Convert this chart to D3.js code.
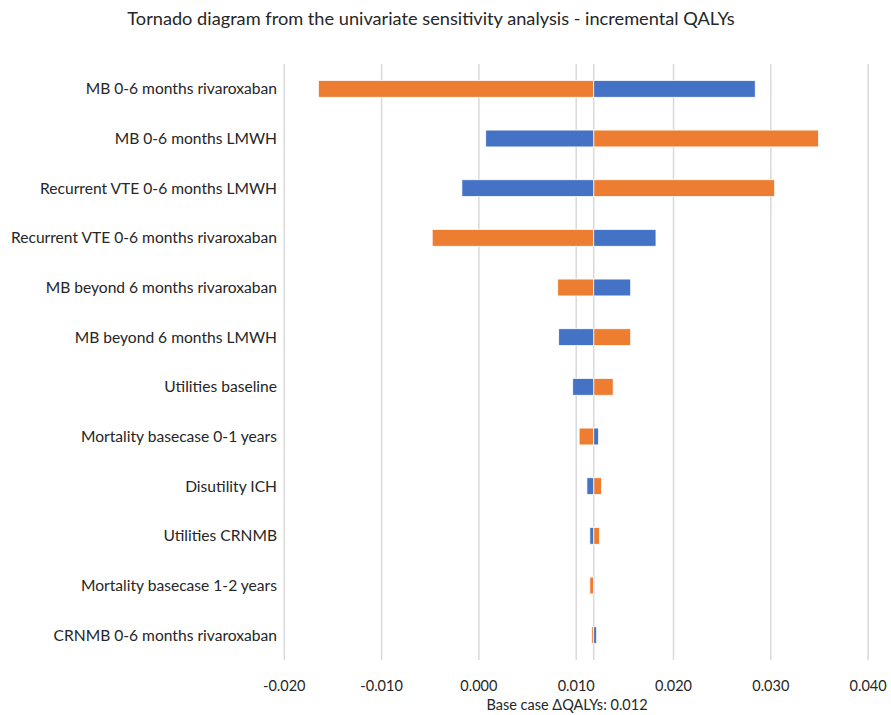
<!DOCTYPE html>
<html><head><meta charset="utf-8">
<script src="https://cdn.jsdelivr.net/npm/d3@7"></script>
<style>body{margin:0;background:#fff;} text{font-family:Lato,"Open Sans","Liberation Sans",sans-serif;fill:#262626;}</style>
</head><body>
<svg id="c" width="891" height="715"></svg>
<script>
const categories = [
  "MB 0-6 months rivaroxaban",
  "MB 0-6 months LMWH",
  "Recurrent VTE 0-6 months LMWH",
  "Recurrent VTE 0-6 months rivaroxaban",
  "MB beyond 6 months rivaroxaban",
  "MB beyond 6 months LMWH",
  "Utilities baseline",
  "Mortality basecase 0-1 years",
  "Disutility ICH",
  "Utilities CRNMB",
  "Mortality basecase 1-2 years",
  "CRNMB 0-6 months rivaroxaban"
];
// blue series (one end of range) and orange series (other end)
const blueValues   = [0.0284, 0.0007, -0.00175, 0.0182, 0.0156, 0.0082, 0.00964, 0.0123, 0.0111, 0.0114, 0.0119, 0.0121];
const orangeValues = [-0.0165, 0.0349, 0.0304, -0.0048, 0.0081, 0.0156, 0.0138, 0.0103, 0.0126, 0.0124, 0.0114, 0.0116];
const baseCase = 0.0118;
const tickValues = [-0.02, -0.01, 0, 0.01, 0.02, 0.03, 0.04];
const titleText = "Tornado diagram from the univariate sensitivity analysis - incremental QALYs";
const axisTitle = "Base case \u0394QALYs: 0.012";

const svg = d3.select("#c");
const x = d3.scaleLinear().domain([-0.02, 0.04]).range([284.3, 868.1]);
const y = d3.scaleBand().domain(categories).range([64, 660]).paddingInner(0.66).paddingOuter(0.33);

// gridlines
svg.append("g").selectAll("line").data(tickValues).join("line")
  .attr("x1", d => x(d)).attr("x2", d => x(d)).attr("y1", 64).attr("y2", 660)
  .attr("stroke", "#d9d9d9").attr("stroke-width", 1.5);
// base line
svg.append("line").attr("x1", x(baseCase)).attr("x2", x(baseCase)).attr("y1", 64).attr("y2", 660)
  .attr("stroke", "#d9d9d9").attr("stroke-width", 1.5);

const rows = categories.map((c, i) => ({c, b: blueValues[i], o: orangeValues[i]}));
const g = svg.append("g");
function bars(key, color) {
  g.selectAll("rect." + key).data(rows).join("rect").attr("class", key)
    .attr("x", d => Math.min(x(d[key]), x(baseCase)))
    .attr("width", d => Math.abs(x(d[key]) - x(baseCase)))
    .attr("y", d => y(d.c)).attr("height", y.bandwidth())
    .attr("fill", color).attr("stroke", "#fff").attr("stroke-width", 0.8);
}
bars("o", "#ED7D31");
bars("b", "#4472C4");

// category labels
svg.append("g").selectAll("text").data(categories).join("text")
  .attr("x", 277).attr("y", d => y(d) + y.bandwidth() / 2).attr("dy", "0.35em")
  .attr("text-anchor", "end").attr("font-size", 15.6).text(d => d);

// x tick labels
svg.append("g").selectAll("text").data(tickValues).join("text")
  .attr("x", d => x(d)).attr("y", 691).attr("text-anchor", "middle").attr("font-size", 14.5)
  .text(d => d3.format(".3f")(d).replace("\u2212", "-"));

svg.append("text").attr("x", 567).attr("y", 710).attr("text-anchor", "middle").attr("font-size", 14.5).text(axisTitle);
svg.append("text").attr("x", 431).attr("y", 25).attr("text-anchor", "middle").attr("font-size", 18.2).text(titleText);
</script>
</body></html>
